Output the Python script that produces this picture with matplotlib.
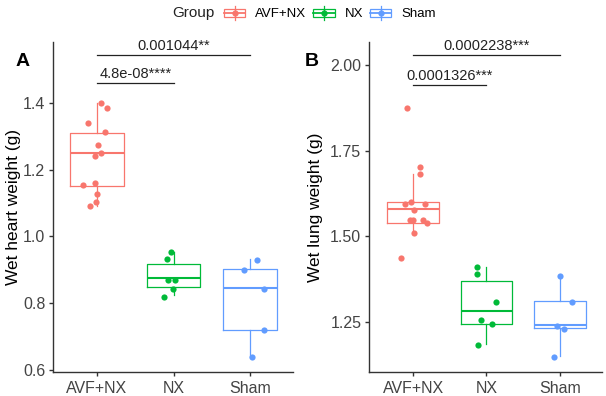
import numpy as np
import matplotlib
matplotlib.use("Agg")
import matplotlib.pyplot as plt
from matplotlib.patches import Rectangle, Patch
from matplotlib.lines import Line2D
from matplotlib.legend_handler import HandlerBase

plt.rcParams['font.family'] = ['Liberation Sans', 'DejaVu Sans']

groups = ["AVF+NX", "NX", "Sham"]
colors = ["#F8766D", "#00BA38", "#619CFF"]

# panel A: wet heart weight (g)
heart = [
    [1.400, 1.383, 1.338, 1.313, 1.274, 1.250, 1.241, 1.155, 1.160, 1.128, 1.102, 1.092],
    [0.954, 0.932, 0.869, 0.869, 0.842, 0.818],
    [0.929, 0.899, 0.842, 0.720, 0.640],
]
heart_jit = [
    [0.055, 0.128, -0.12, 0.107, 0.015, 0.055, -0.024, -0.18, -0.024, 0.003, -0.01, -0.094],
    [-0.034, -0.086, -0.07, 0.018, -0.008, -0.13],
    [0.087, -0.074, 0.187, 0.187, 0.03],
]
# whislo, q1, med, q3, whishi
heart_box = [
    [1.092, 1.151, 1.251, 1.310, 1.400],
    [0.825, 0.848, 0.875, 0.917, 0.954],
    [0.640, 0.720, 0.845, 0.902, 0.932],
]
heart_sig = [("4.8e-08****", 0, 1, 1.458), ("0.001044**", 0, 2, 1.543)]

# panel B: wet lung weight (g)
lung = [
    [1.875, 1.702, 1.681, 1.593, 1.600, 1.593, 1.576, 1.547, 1.547, 1.547, 1.539, 1.510, 1.435],
    [1.410, 1.389, 1.306, 1.255, 1.243, 1.182],
    [1.383, 1.306, 1.237, 1.228, 1.147],
]
lung_jit = [
    [-0.077, 0.091, 0.091, -0.113, -0.031, 0.16, 0.01, -0.045, 0.0, 0.136, 0.196, 0.014, -0.16],
    [-0.123, -0.132, 0.136, -0.068, 0.082, -0.114],
    [0.0, 0.168, -0.045, 0.059, -0.077],
]
lung_box = [
    [1.510, 1.537, 1.579, 1.600, 1.680],
    [1.184, 1.242, 1.282, 1.369, 1.410],
    [1.151, 1.230, 1.240, 1.310, 1.383],
]
lung_sig = [("0.0001326***", 0, 1, 1.942), ("0.0002238***", 0, 2, 2.029)]


def draw_panel(ax, vals, jit, boxes, sig, ylabel, yticks, fmt):
    stats = [dict(whislo=b[0], q1=b[1], med=b[2], q3=b[3], whishi=b[4]) for b in boxes]
    bp = ax.bxp(stats, positions=range(3), widths=0.7, showfliers=False,
                showcaps=False, manage_ticks=False)
    for i, c in enumerate(colors):
        bp['boxes'][i].set(color=c, lw=0.9)
        bp['medians'][i].set(color=c, lw=1.5)
        for w in bp['whiskers'][2 * i:2 * i + 2]:
            w.set(color=c, lw=0.9)
        ax.scatter(np.array(jit[i]) + i, vals[i], s=20, color=c, zorder=3, lw=0)
    for txt, a, b, y in sig:
        ax.plot([a, b], [y, y], color="#222222", lw=0.9)
        ax.annotate(txt, ((a + b) / 2, y), xytext=(0, 1.5), textcoords="offset points",
                    ha="center", va="bottom", fontsize=10.5, color="#222222")
    ax.set_xticks(range(3))
    ax.set_xticklabels(groups)
    ax.set_yticks(yticks)
    ax.set_yticklabels([fmt.format(v) for v in yticks])
    ax.set_ylabel(ylabel, fontsize=12.5)
    for s in ["top", "right"]:
        ax.spines[s].set_visible(False)
    for s in ["left", "bottom"]:
        ax.spines[s].set_color("#333333")
        ax.spines[s].set_linewidth(1.0)
    ax.tick_params(labelsize=11.5, labelcolor="#444444", color="#333333",
                   length=3, width=1.0)
    ax.tick_params(axis="x", pad=3.5)
    ax.tick_params(axis="y", pad=2.5)


fig = plt.figure(figsize=(6.06, 3.96), dpi=100)
axA = fig.add_axes([53 / 606, 1 - 372 / 396, 240 / 606, 330 / 396])
axB = fig.add_axes([369 / 606, 1 - 372.3 / 396, 232.7 / 606, 330.3 / 396])

draw_panel(axA, heart, heart_jit, heart_box, heart_sig, "Wet heart weight (g)",
           [0.6, 0.8, 1.0, 1.2, 1.4], "{:.1f}")
axA.set_xlim(-0.575, 2.56)
axA.set_ylim(0.594, 1.582)
axA.yaxis.set_label_coords((21 - 53) / 240, 0.5)

draw_panel(axB, lung, lung_jit, lung_box, lung_sig, "Wet lung weight (g)",
           [1.25, 1.50, 1.75, 2.00], "{:.2f}")
axB.set_xlim(-0.6, 2.57)
axB.set_ylim(1.102, 2.067)
axB.yaxis.set_label_coords((323 - 369) / 232.7, 0.5)

fig.text(23 / 606, 1 - 62 / 396, "A", fontsize=14, fontweight="bold", ha="center", va="center")
fig.text(312 / 606, 1 - 62 / 396, "B", fontsize=14, fontweight="bold", ha="center", va="center")


class BoxKey(HandlerBase):
    def create_artists(self, legend, orig, xd, yd, width, height, fontsize, trans):
        c = orig.get_edgecolor()
        cx = -xd + width / 2
        cy = -yd + height / 2
        bh = height * 0.6
        rect = Rectangle((-xd, cy - bh / 2), width, bh, fill=False, edgecolor=c, lw=0.9,
                         transform=trans)
        wl = Line2D([cx, cx], [-yd, -yd + height], color=c, lw=0.9, transform=trans)
        med = Line2D([-xd, -xd + width], [cy, cy], color=c, lw=1.3, transform=trans)
        dot = Line2D([cx], [cy], marker="o", ms=3.5, color=c, lw=0, transform=trans)
        return [wl, rect, med, dot]


handles = [Patch(facecolor="none", edgecolor=c) for c in colors]
fig.legend(handles, groups, handler_map={Patch: BoxKey()}, ncol=3, frameon=False,
           loc="center left", bbox_to_anchor=(224 / 606, 1 - 13 / 396),
           borderaxespad=0, borderpad=0, fontsize=9.5, handlelength=1.6,
           handleheight=1.3, handletextpad=0.75, columnspacing=0.55)
fig.text(172 / 606, 1 - 13 / 396, "Group", fontsize=11, ha="left", va="center", color="#222222")

fig.savefig("out.png", dpi=100)
